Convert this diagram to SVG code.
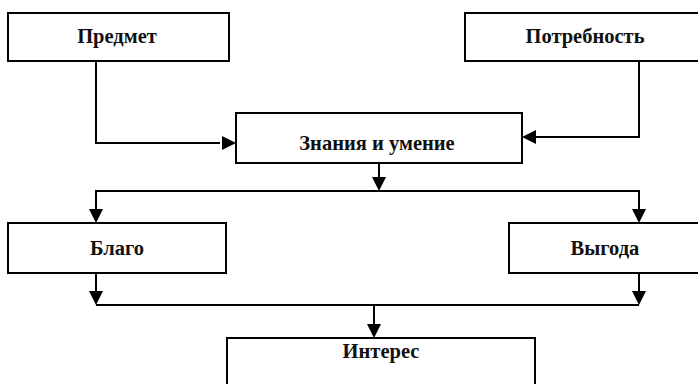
<svg xmlns="http://www.w3.org/2000/svg" width="698" height="384" viewBox="0 0 698 384">
<style>
.box{fill:#fff;stroke:#000;stroke-width:2}
.lbl{font-family:"Liberation Serif","Times New Roman",serif;font-weight:bold;font-size:20.5px;text-anchor:middle;fill:#111}
.ln{fill:none;stroke:#000;stroke-width:2}
</style>
<rect width="698" height="384" fill="#fff"/>
<g id="n-predmet"><rect class="box" x="8" y="13" width="221" height="48"/><text class="lbl" x="117" y="43">Предмет</text></g>
<g id="n-potrebnost"><rect class="box" x="465" y="13" width="240" height="48"/><text class="lbl" x="585" y="43">Потребность</text></g>
<g id="n-znaniya"><rect class="box" x="236" y="113" width="286" height="50"/><text class="lbl" x="377" y="150">Знания и умение</text></g>
<g id="n-blago"><rect class="box" x="8" y="223" width="218" height="50"/><text class="lbl" x="117" y="255">Благо</text></g>
<g id="n-vygoda"><rect class="box" x="509" y="223" width="200" height="50"/><text class="lbl" x="605" y="255">Выгода</text></g>
<g id="n-interes"><rect class="box" x="227" y="338" width="308" height="60"/><text class="lbl" x="381" y="358">Интерес</text></g>
<g id="connectors">
<path class="ln" d="M96,61 V143 H220"/><path d="M222,136 L236,143 L222,150 z"/>
<path class="ln" d="M639,61 V137 H536"/><path d="M536,130 L522,137 L536,144 z"/>
<path class="ln" d="M379,163 V177"/><path d="M372,177 L379,191 L386,177 z"/>
<path class="ln" d="M96,209 V191 H639 V209"/>
<path d="M89,209 L96,223 L103,209 z"/><path d="M632,209 L639,223 L646,209 z"/>
<path class="ln" d="M96,273 V291"/><path d="M89,291 L96,305 L103,291 z"/>
<path class="ln" d="M639,273 V291"/><path d="M632,291 L639,305 L646,291 z"/>
<path class="ln" d="M96,305 H639"/>
<path class="ln" d="M374,305 V324"/><path d="M367,324 L374,338 L381,324 z"/>
</g>
</svg>
